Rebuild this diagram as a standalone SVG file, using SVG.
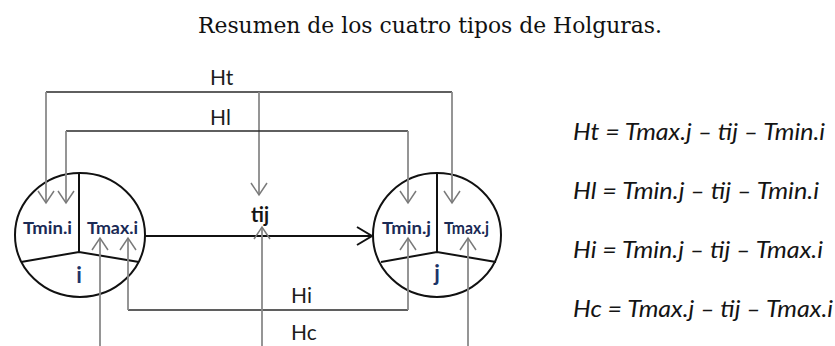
<svg xmlns="http://www.w3.org/2000/svg" width="835" height="346" viewBox="0 0 835 346">
<defs>
<marker id="chev" markerUnits="userSpaceOnUse" markerWidth="20" markerHeight="20" refX="12" refY="8" orient="auto" overflow="visible">
<path d="M0,0 L12,8 L0,16" fill="none" stroke="#7a7a7a" stroke-width="1.5"/>
</marker>
<marker id="chevBlack" markerUnits="userSpaceOnUse" markerWidth="20" markerHeight="20" refX="15" refY="9" orient="auto" overflow="visible">
<path d="M0,0 L15,9 L0,18" fill="none" stroke="#111" stroke-width="2"/>
</marker>
<style>
.title{font-family:"DejaVu Serif","Liberation Serif",serif;font-size:22px;fill:#111}
.lbl{font-family:Lato,"Open Sans",sans-serif;font-size:21px;fill:#1c1c1c}
.fml{font-family:Lato,"Open Sans",sans-serif;font-size:23px;font-style:italic;fill:#141414}
.cell{font-family:Lato,"Open Sans",sans-serif;font-size:17px;font-weight:700;fill:#1a2a55}
.node{font-family:Lato,"Open Sans",sans-serif;font-size:22px;font-weight:700;fill:#1c3468}
.tij{font-family:Lato,"Open Sans",sans-serif;font-size:20px;font-weight:700;fill:#151515}
.shape{fill:#fff;stroke:#111;stroke-width:2}
.div{fill:none;stroke:#111;stroke-width:2}
.h{fill:none;stroke:#2a2a2a;stroke-width:1.6}
.v{fill:none;stroke:#8a8a8a;stroke-width:1.8;marker-end:url(#chev)}
.main{fill:none;stroke:#111;stroke-width:2;marker-end:url(#chevBlack)}
</style>
</defs>
<rect width="835" height="346" fill="#fff"/>
<text class="title" x="198" y="33" textLength="464" lengthAdjust="spacingAndGlyphs">Resumen de los cuatro tipos de Holguras.</text>

<g id="node-i">
<ellipse class="shape" cx="80" cy="235" rx="65" ry="62"/>
<path class="div" d="M79,173 V252 M21,262 L79,252 L139,262"/>
<text class="cell" x="23" y="234" textLength="49" lengthAdjust="spacingAndGlyphs">Tmin.i</text>
<text class="cell" x="87" y="234" textLength="51" lengthAdjust="spacingAndGlyphs">Tmax.i</text>
<text class="node" x="79" y="283" text-anchor="middle">i</text>
</g>

<g id="node-j">
<ellipse class="shape" cx="437" cy="235" rx="64" ry="62"/>
<path class="div" d="M437,173 V252 M381,262 L437,252 L496,262"/>
<text class="cell" x="382" y="234" textLength="49" lengthAdjust="spacingAndGlyphs">Tmin.j</text>
<text class="cell" x="444" y="234" textLength="45" lengthAdjust="spacingAndGlyphs">Tmax.j</text>
<text class="node" x="437" y="281" text-anchor="middle">j</text>
</g>

<g id="node-tij">
<text class="tij" x="260" y="222" text-anchor="middle">tij</text>
</g>

<g id="connectors">
<path class="main" d="M145,236 H372"/>
<path class="h" d="M46,92 H452"/>
<path class="v" d="M46,92 V203"/>
<path class="v" d="M452,92 V203"/>
<path class="v" d="M259,92 V195"/>
<path class="h" d="M66,131 H408"/>
<path class="v" d="M66,131 V203"/>
<path class="v" d="M408,131 V203"/>
<path class="h" d="M128,310 H408"/>
<path class="v" d="M128,310 V238"/>
<path class="v" d="M408,310 V238"/>
<path class="v" d="M100,346 V238"/>
<path class="v" d="M468,346 V238"/>
<path class="v" d="M262,346 V227"/>
</g>

<g id="labels">
<text class="lbl" x="210" y="85">Ht</text>
<text class="lbl" x="210" y="125">Hl</text>
<text class="lbl" x="291" y="303">Hi</text>
<text class="lbl" x="291" y="340">Hc</text>
</g>

<g id="formulas">
<text class="fml" x="573" y="140" textLength="252" lengthAdjust="spacingAndGlyphs">Ht = Tmax.j – tij – Tmin.i</text>
<text class="fml" x="573" y="199" textLength="246" lengthAdjust="spacingAndGlyphs">Hl = Tmin.j – tij – Tmin.i</text>
<text class="fml" x="573" y="258" textLength="250" lengthAdjust="spacingAndGlyphs">Hi = Tmin.j – tij – Tmax.i</text>
<text class="fml" x="573" y="317" textLength="260" lengthAdjust="spacingAndGlyphs">Hc = Tmax.j – tij – Tmax.i</text>
</g>
</svg>
